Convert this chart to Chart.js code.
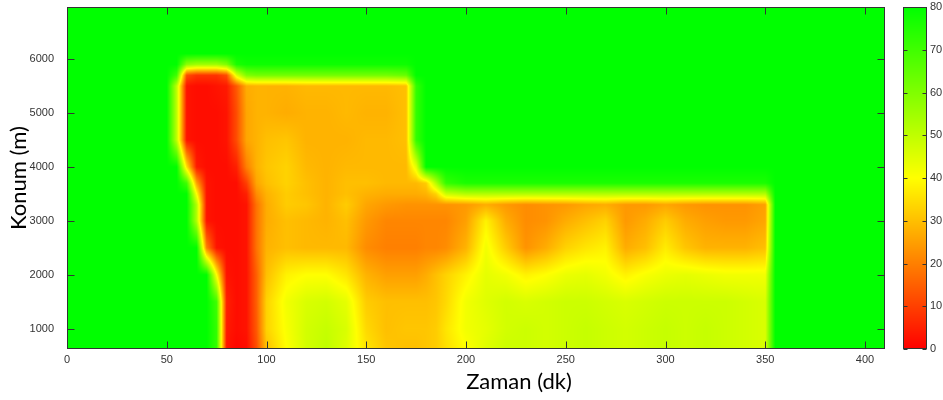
<!DOCTYPE html>
<html>
<head>
<meta charset="utf-8">
<script src="https://cdn.jsdelivr.net/npm/chart.js@4.4.1/dist/chart.umd.min.js"></script>
<style>
  html, body { margin: 0; background: #fff; }
  #wrap { width: 943px; height: 400px; position: relative; }
</style>
</head>
<body>
<div id="wrap"><canvas id="chart"></canvas></div>
<script>
// time (dk) of each column, position (m) of each row
const times = [0, 50, 55, 60, 65, 70, 75, 80, 85, 90, 95,
               100, 110, 120, 130, 140, 150, 160, 170,
               175, 180, 185, 190,
               200, 210, 220, 230, 240, 250, 260, 270, 280, 290, 300, 310, 320, 330, 340, 350,
               355, 410];
const positions = [625, 1000, 1500, 2000, 2500, 3000, 3300, 3500, 3700, 4000, 4500, 5000, 5500, 5700, 5900, 6100, 6965];

// speed, one row per position (bottom to top)
const speed = [
  /* 625 */  [80,80,80,80,80,80,72,3,1,2,12, 30,40,47,50,45,36,31,30, 30,31,32,35, 40,45,48,48,47,48,49,48,47,48,49,48,49,48,47,46, 80,80],
  /* 1000 */ [80,80,80,80,80,80,72,4,2,3,14, 33,41,47,49,46,34,30,31, 31,31,32,36, 42,44,47,48,47,48,49,48,47,48,49,48,49,48,47,46, 80,80],
  /* 1500 */ [80,80,80,80,80,80,70,5,2,3,15, 33,42,46,47,44,32,30,30, 30,30,31,34, 42,45,47,46,47,48,48,47,46,47,48,48,48,48,47,46, 80,80],
  /* 2000 */ [80,80,80,80,80,80,40,3,2,3,15, 30,38,40,40,36,28,25,25, 25,27,30,33, 38,44,42,38,40,43,44,42,38,41,43,44,43,42,42,42, 80,80],
  /* 2500 */ [80,80,80,80,80,20,3,2,2,3,18, 28,30,29,29,29,22,20,20, 20,21,21,22, 28,42,32,23,27,33,36,38,27,30,37,31,28,28,28,30, 80,80],
  /* 3000 */ [80,80,80,80,52,3,2,2,2,3,18, 27,30,29,28,30,24,21,21, 21,21,21,21, 25,38,27,22,23,27,30,33,24,27,32,27,25,24,24,26, 80,80],
  /* 3300 */ [80,80,80,80,52,3,2,2,2,3,18, 27,32,31,28,32,26,24,23, 23,23,23,23, 24,27,24,22,23,24,26,27,24,24,26,24,23,23,23,25, 80,80],
  /* 3500 */ [80,80,80,80,40,3,2,2,2,5,22, 28,32,30,28,30,28,27,27, 27,28,33,48, 52,52,52,52,52,52,52,52,52,52,52,52,52,52,52,52, 80,80],
  /* 3700 */ [80,80,80,70,25,3,2,2,2,10,26, 30,33,30,28,30,30,29,29, 29,32,52,72, 76,76,76,76,76,76,76,76,76,76,76,76,76,76,76,76, 80,80],
  /* 4000 */ [80,80,80,35,4,2,2,2,5,20,28, 31,33,29,28,29,29,29,29, 44,80,80,80, 80,80,80,80,80,80,80,80,80,80,80,80,80,80,80,80, 80,80],
  /* 4500 */ [80,80,50,3,2,2,2,3,12,26,28, 30,31,28,28,28,29,29,30, 72,80,80,80, 80,80,80,80,80,80,80,80,80,80,80,80,80,80,80,80, 80,80],
  /* 5000 */ [80,80,50,3,2,2,2,3,12,26,28, 28,27,28,28,29,28,28,30, 72,80,80,80, 80,80,80,80,80,80,80,80,80,80,80,80,80,80,80,80, 80,80],
  /* 5500 */ [80,80,50,3,2,2,3,4,14,27,28, 28,28,29,29,29,29,29,30, 72,80,80,80, 80,80,80,80,80,80,80,80,80,80,80,80,80,80,80,80, 80,80],
  /* 5700 */ [80,80,70,12,8,8,8,12,45,60,62, 62,62,62,62,62,62,62,64, 80,80,80,80, 80,80,80,80,80,80,80,80,80,80,80,80,80,80,80,80, 80,80],
  /* 5900 */ [80,80,80,58,55,55,55,60,76,78,78, 78,78,78,78,78,78,78,78, 80,80,80,80, 80,80,80,80,80,80,80,80,80,80,80,80,80,80,80,80, 80,80],
  /* 6100 */ [80,80,80,80,80,80,80,80,80,80,80, 80,80,80,80,80,80,80,80, 80,80,80,80, 80,80,80,80,80,80,80,80,80,80,80,80,80,80,80,80, 80,80],
  /* 6965 */ [80,80,80,80,80,80,80,80,80,80,80, 80,80,80,80,80,80,80,80, 80,80,80,80, 80,80,80,80,80,80,80,80,80,80,80,80,80,80,80,80, 80,80]
];

const xTicks = [0, 50, 100, 150, 200, 250, 300, 350, 400];
const yTicks = [1000, 2000, 3000, 4000, 5000, 6000];
const barTicks = [0, 10, 20, 30, 40, 50, 60, 70, 80];

// red -> yellow -> green
function colour(v) {
  v = Math.max(0, Math.min(80, v));
  if (v <= 40) return [255, Math.round(255 * v / 40), 0];
  return [Math.round(255 * (80 - v) / 40), 255, 0];
}

function locate(arr, v) {
  let i = 0;
  while (i < arr.length - 2 && v > arr[i + 1]) i++;
  const f = Math.min(1, Math.max(0, (v - arr[i]) / (arr[i + 1] - arr[i])));
  return [i, f];
}

const heatmap = {
  id: 'heatmap',
  beforeDatasetsDraw(chart) {
    const { ctx, chartArea: a, scales: { x, y, bar } } = chart;
    const L = Math.round(a.left), T = Math.round(a.top);
    const w = Math.round(a.right) - L, h = Math.round(a.bottom) - T;
    const img = ctx.createImageData(w, h);
    const cols = [], rows = [];
    for (let i = 0; i < w; i++) cols.push(locate(times, x.getValueForPixel(L + i + 0.5)));
    for (let j = 0; j < h; j++) rows.push(locate(positions, y.getValueForPixel(T + j + 0.5)));
    for (let j = 0; j < h; j++) {
      const [r, fy] = rows[j];
      const lo = speed[r], hi = speed[r + 1];
      for (let i = 0; i < w; i++) {
        const [c, fx] = cols[i];
        const a0 = lo[c] * (1 - fx) + lo[c + 1] * fx;
        const a1 = hi[c] * (1 - fx) + hi[c + 1] * fx;
        const rgb = colour(a0 * (1 - fy) + a1 * fy);
        const k = (j * w + i) * 4;
        img.data[k] = rgb[0]; img.data[k + 1] = rgb[1]; img.data[k + 2] = rgb[2]; img.data[k + 3] = 255;
      }
    }
    ctx.putImageData(img, L, T);

    // colour bar
    const bx = Math.round(a.right) + 18, bw = 24;
    const top = Math.round(bar.getPixelForValue(80)), bot = Math.round(bar.getPixelForValue(0));
    for (let py = top; py < bot; py++) {
      const rgb = colour(bar.getValueForPixel(py + 0.5));
      ctx.fillStyle = `rgb(${rgb[0]},${rgb[1]},${rgb[2]})`;
      ctx.fillRect(bx, py, bw, 1);
    }
  },
  afterDraw(chart) {
    const { ctx, chartArea: a, scales: { x, y, bar } } = chart;
    ctx.save();
    ctx.strokeStyle = '#333';
    ctx.lineWidth = 1;
    const L = Math.round(a.left) + 0.5, R = Math.round(a.right) - 0.5;
    const T = Math.round(a.top) + 0.5, B = Math.round(a.bottom) - 0.5;
    ctx.strokeRect(L, T, R - L, B - T);
    ctx.beginPath();
    xTicks.forEach(v => {
      const p = Math.round(x.getPixelForValue(v)) + 0.5;
      ctx.moveTo(p, B); ctx.lineTo(p, B - 7);
      ctx.moveTo(p, T); ctx.lineTo(p, T + 7);
    });
    yTicks.forEach(v => {
      const p = Math.round(y.getPixelForValue(v)) + 0.5;
      ctx.moveTo(L, p); ctx.lineTo(L + 7, p);
      ctx.moveTo(R, p); ctx.lineTo(R - 7, p);
    });
    const bx = Math.round(a.right) + 18 + 0.5, bw = 23;
    barTicks.forEach(v => {
      const p = Math.round(bar.getPixelForValue(v)) + 0.5;
      ctx.moveTo(bx, p); ctx.lineTo(bx + 4, p);
      ctx.moveTo(bx + bw, p); ctx.lineTo(bx + bw - 4, p);
    });
    ctx.stroke();
    ctx.strokeRect(bx, T, bw, B - T);

    // x axis title sits right of the plot centre in the original
    ctx.fillStyle = '#000';
    ctx.font = '22px Lato';
    ctx.textAlign = 'center';
    ctx.textBaseline = 'alphabetic';
    ctx.fillText('Zaman (dk)', 519, 389);
    ctx.restore();
  }
};

const tickFont = { family: '"Liberation Sans", Arial, sans-serif', size: 11 };
// keep the label overhang from pushing the plot area around
const noPad = s => { s.paddingTop = 0; s.paddingBottom = 0; s.paddingLeft = 0; s.paddingRight = 0; };

new Chart(document.getElementById('chart'), {
  type: 'scatter',
  data: { datasets: [] },
  plugins: [heatmap],
  options: {
    responsive: true,
    maintainAspectRatio: false,
    devicePixelRatio: 1,
    animation: false,
    layout: { padding: { top: 7, left: 0, right: 0, bottom: 0 } },
    plugins: { legend: { display: false }, tooltip: { enabled: false } },
    scales: {
      x: {
        type: 'linear', position: 'bottom', min: 0, max: 410,
        afterBuildTicks: s => { s.ticks = xTicks.map(v => ({ value: v })); },
        afterFit: s => { s.height = 51; noPad(s); },
        grid: { display: false, drawTicks: false },
        border: { display: false },
        ticks: { font: tickFont, color: '#333', padding: 4, maxRotation: 0, autoSkip: false, callback: v => String(v) }
      },
      y: {
        type: 'linear', position: 'left', min: 625, max: 6965,
        afterBuildTicks: s => { s.ticks = yTicks.map(v => ({ value: v })); },
        afterFit: s => { s.width = 67; noPad(s); },
        grid: { display: false, drawTicks: false },
        border: { display: false },
        ticks: { font: tickFont, color: '#333', padding: 13, autoSkip: false, callback: v => String(v) },
        title: { display: true, text: 'Konum (m)', color: '#000', font: { family: 'Lato', size: 22 }, padding: { top: 6, bottom: 0 } }
      },
      bar: {
        type: 'linear', axis: 'y', position: 'right', min: 0, max: 80,
        afterBuildTicks: s => { s.ticks = barTicks.map(v => ({ value: v })); },
        afterFit: s => { s.width = 58; noPad(s); },
        grid: { display: false, drawTicks: false },
        border: { display: false },
        ticks: { font: tickFont, color: '#333', padding: 45, autoSkip: false, callback: v => String(v) }
      }
    }
  }
});
</script>
</body>
</html>
